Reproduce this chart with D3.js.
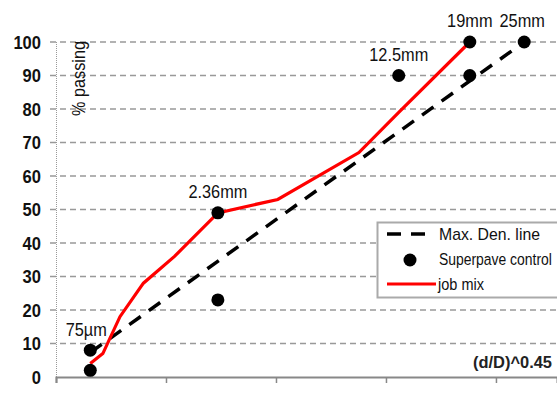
<!DOCTYPE html>
<html>
<head>
<meta charset="utf-8">
<script src="https://cdn.jsdelivr.net/npm/d3@7"></script>
<style>
  html, body { margin: 0; padding: 0; background: #fff; }
  svg { display: block; }
  text { font-family: "Liberation Sans", Arial, sans-serif; }
</style>
</head>
<body>
<div id="chart"></div>
<script>
"use strict"

// sieve sizes in mm, x is plotted as size^0.45
const maxDenSizes = [0.075, 25];
const maxDenPassing = [7.3, 100];

const controlSizes = [0.075, 0.075, 2.36, 2.36, 12.5, 19, 19, 25];
const controlPassing = [2, 8, 23, 49, 90, 90, 100, 100];

const jobSizes = [0.075, 0.15, 0.3, 0.6, 1.18, 2.36, 4.75, 9.5, 12.5, 19];
const jobPassing = [4, 7, 18, 28, 36, 49, 53, 67, 79, 100];

const pointLabels = ["75\u00b5m", "2.36mm", "12.5mm", "19mm", "25mm"];
const pointLabelSizes = [0.075, 2.36, 12.5, 19, 25];
const pointLabelPassing = [8, 49, 90, 100, 100];

const yTicks = [0, 10, 20, 30, 40, 50, 60, 70, 80, 90, 100];
const xTicks = [0, 1, 2, 3, 4];

const legendNames = ["Max. Den. line", "Superpave control", "job mix"];

let W = 557, H = 394;
let x = d3.scaleLinear().domain([0, 4.555]).range([56, 557]);
let y = d3.scaleLinear().domain([0, 100]).range([377, 42]);
let px = (s) => x(Math.pow(s, 0.45));
let narrow = 0.86;

let svg = (
  d3.select('#chart')
    .append('svg')
    .attr('width', W)
    .attr('height', H));

// Grid lines
(svg
  .selectAll('line.grid')
    .data(yTicks.filter((d) => d > 0))
  .enter()
    .append('line')
      .attr('class', 'grid')
      .attr('x1', 50)
      .attr('x2', W)
      .attr('y1', (d) => y(d))
      .attr('y2', (d) => y(d))
      .attr('stroke', '#999')
      .attr('stroke-width', 1.3)
      .attr('stroke-dasharray', '6,4')
);

// Y axis (dotted)
(svg.append('line')
  .attr('x1', 56.5).attr('x2', 56.5)
  .attr('y1', y(100)).attr('y2', y(0))
  .attr('stroke', '#999')
  .attr('stroke-width', 1)
  .attr('stroke-dasharray', '1,1'));

(svg
  .selectAll('text.ytick')
    .data(yTicks)
  .enter()
    .append('text')
      .attr('class', 'ytick')
      .attr('transform', (d) => `translate(41,${y(d) + 6.5}) scale(0.92,1)`)
      .attr('text-anchor', 'end')
      .attr('style', 'font-size: 18px; font-weight: bold; fill: #111')
      .text((d) => d)
);

// X axis
let xAxis = d3.axisBottom(x).tickValues(xTicks).tickSize(6).tickFormat('');
let gx = svg.append('g').attr('transform', `translate(0,${y(0)})`).call(xAxis);
gx.select('.domain').attr('stroke', '#888').attr('stroke-width', 2);
gx.selectAll('.tick line').attr('stroke', '#888').attr('stroke-width', 1.5);

// Axis titles
(svg.append('text')
  .attr('transform', `translate(85,${y(100) - 1}) rotate(-90)`)
  .attr('text-anchor', 'end')
  .attr('textLength', 75)
  .attr('lengthAdjust', 'spacingAndGlyphs')
  .attr('style', 'font-size: 19px; fill: #111')
  .text('% passing'));

(svg.append('text')
  .attr('x', 473)
  .attr('y', 368)
  .attr('textLength', 79)
  .attr('lengthAdjust', 'spacingAndGlyphs')
  .attr('style', 'font-size: 16px; font-weight: bold; fill: #222')
  .text('(d/D)^0.45'));

// Max density line
let line = d3.line().x((d) => px(d[0])).y((d) => y(d[1]));
(svg.append('path')
  .datum(d3.zip(maxDenSizes, maxDenPassing))
  .attr('d', line)
  .attr('fill', 'none')
  .attr('stroke', '#000')
  .attr('stroke-width', 3.5)
  .attr('stroke-dasharray', '14,10'));

// Job mix
(svg.append('path')
  .datum(d3.zip(jobSizes, jobPassing))
  .attr('d', line)
  .attr('fill', 'none')
  .attr('stroke', '#f00')
  .attr('stroke-width', 3.2));

// Superpave control points
(svg
  .selectAll('circle.ctrl')
    .data(d3.zip(controlSizes, controlPassing))
  .enter()
    .append('circle')
      .attr('class', 'ctrl')
      .attr('cx', (d) => px(d[0]))
      .attr('cy', (d) => y(d[1]))
      .attr('r', 6.5)
      .attr('fill', '#000')
);

// Point labels
(svg
  .selectAll('text.plabel')
    .data(d3.zip(pointLabelSizes, pointLabelPassing, pointLabels))
  .enter()
    .append('text')
      .attr('class', 'plabel')
      .attr('transform', (d) => {
        let cx = px(d[0]) + (d[0] < 0.1 ? -4 : (d[0] > 20 ? -2 : 0));
        let cy = y(d[1]) - (d[0] < 0.1 ? 14 : 15);
        return `translate(${cx},${cy}) scale(${narrow},1)`;
      })
      .attr('text-anchor', 'middle')
      .attr('style', 'font-size: 19px; fill: #111')
      .text((d) => d[2])
);

// Legend
let lg = svg.append('g');
(lg.append('rect')
  .attr('x', 377.5).attr('y', 222.5)
  .attr('width', 190).attr('height', 75)
  .attr('fill', '#fff')
  .attr('stroke', '#aaa')
  .attr('stroke-width', 2));

(lg.append('line')
  .attr('x1', 387).attr('x2', 430)
  .attr('y1', 234).attr('y2', 234)
  .attr('stroke', '#000').attr('stroke-width', 3.5)
  .attr('stroke-dasharray', '14,10'));
(lg.append('circle')
  .attr('cx', 410).attr('cy', 260).attr('r', 6.5).attr('fill', '#000'));
(lg.append('line')
  .attr('x1', 387).attr('x2', 436)
  .attr('y1', 284).attr('y2', 284)
  .attr('stroke', '#f00').attr('stroke-width', 3));

// squeeze each legend text to the width it has in the picture
let legendLengths = [101, 113, 46];
(lg
  .selectAll('text')
    .data(legendNames)
  .enter()
    .append('text')
      .attr('style', 'font-size: 17px; fill: #111')
      .text((d) => d)
      .each(function (d, i) {
        let k = legendLengths[i] / this.getComputedTextLength();
        let tx = i == 2 ? 438 : 439;
        d3.select(this).attr('transform', `translate(${tx},${240 + i * 25}) scale(${k},1)`);
      })
);
</script>
</body>
</html>
